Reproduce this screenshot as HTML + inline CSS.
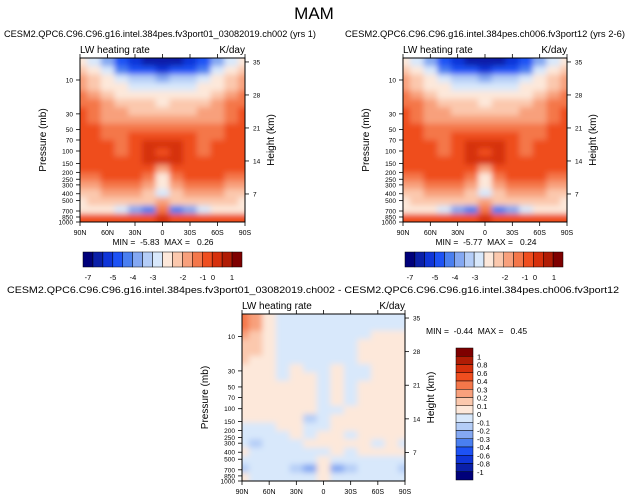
<!DOCTYPE html>
<html><head><meta charset="utf-8"><style>
html,body{margin:0;padding:0;background:#fff;}
svg{display:block;font-family:"Liberation Sans",sans-serif;}
text{white-space:pre;}
</style></head><body>
<svg id="chart" width="628" height="500" viewBox="0 0 628 500" xmlns="http://www.w3.org/2000/svg">
<defs><filter id="blur" filterUnits="userSpaceOnUse" x="0" y="0" width="628" height="500"><feGaussianBlur stdDeviation="3"/></filter></defs>
<text x="314" y="19" font-size="17" text-anchor="middle">MAM</text>
</svg>
<script>
// ---- data ----
const latitudes = [90,75,60,45,30,15,0,-15,-30,-45,-60,-75,-90];
const latLabels = ["90N","60N","30N","0","30S","60S","90S"];
const latTicks = [90,60,30,0,-30,-60,-90];
const pressureTicks = [10,30,50,70,100,150,200,250,300,400,500,700,850,1000];
const heightTicks = [35,28,21,14,7];
const topLevels = [-7,-6,-5,-4,-3.5,-3,-2.5,-2,-1.5,-1,-0.5,0,0.5,1,1.5];
const topLevelLabels = ["-7","-5","-4","-3","-2","-1","0","1"];
const diffLevels = [-1,-0.8,-0.6,-0.4,-0.3,-0.2,-0.1,0,0.1,0.2,0.3,0.4,0.6,0.8,1];
const diffLevelLabels = ["1","0.8","0.6","0.4","0.3","0.2","0.1","0","-0.1","-0.2","-0.3","-0.4","-0.6","-0.8","-1"];
const codeVals = {A:-6.5,B:-5.5,C:-4.5,D:-3.7,E:-3.2,F:-2.7,G:-2.2,H:-1.8,I:-1.3,J:-0.8,K:-0.3,L:0.2,M:0.7,
  p:-0.05,q:0.05,r:0.15,s:0.25,t:0.35,u:-0.15,v:-0.25};
const field1Rows = [
"HGECBAAABCEGH","IHGDCCBCCDGHI","JIHGFFEFFGHIJ","JIHHGGGGGHHIJ","KJIHHHHHHHIJK",
"KKJIIIHIIIJKK","LKJJIIIIIJJKL","LKJJJJJJJJJKL","LLKKKKKKKKKLL","LLKKLLLLLKKLL",
"LLLKLMMMLKLLL","LLLKLMLMLKLLL","LLLLLMMMLLLLL","LLLLLLJLLLLLL","KKLLLKHKLLLKK",
"JJKKKJHJKKKJJ","IIJJJIGIJJJII","HIIIIIJIIIIIH","HHHGEDKDEGHHH","LLLLLLMLLLLLL"];
const field2Rows = [
"HGECBAAABCEGH","IHGDCCBCCDGHI","JIHGFFEFFGHIJ","JIHHGGGGGHHIJ","KJIHHHHHHHIJK",
"KKJIIIHIIIJKK","LKJJIIIIIJJKL","LKJJJJJJJJJKL","LLKKKKKKKKKLL","LLKKLLLLLKKLL",
"LLLKLMMMLKLLL","LLLKLMLMLKLLL","LLLLLMMMLLLLL","LLLLLLJLLLLLL","KKLLLKHKLLLKK",
"JJKKKJHJKKKJJ","IIJJJIGIJJJII","HIIIIIJIIIIIH","HHHGEDKDEGHHH","LLLLLLMLLLLLL"];
const diffRows = [
"tsqpppppppppp","tsqpppppppppp","srqpppppppqqq","rrqppppppqqqq","rrqppppppqqqq",
"rqqppppppqqqq","qqqpqppqppqqq","qqqpqqpqppqqq","qqqqqqpqpqqqq","qqqqqqpqpqqqq",
"qqqqqqpqpqqqq","qqqqqqppqqqqq","qqqqqupqqqqqq","pppqqppqqqqqq","ppppqpqqpqqqq",
"pupppqqqqqpqp","qppppppqpqqqq","ppppppqpppppp","upppuvqvupppu","qpppppqpppppp"];
const palette = ["#00007a","#0a1fa8","#0f35d8","#1d52f5","#4a7ff0","#84a8f2","#b4cdf7","#d8e8fb",
  "#fde8da","#fbc8ad","#f8a07c","#f4774a","#ef4e1f","#d6300c","#b01c05","#7e0000"];

// ---- drawing ----
const svg = document.getElementById('chart');
const NS = "http://www.w3.org/2000/svg";
const P_TOP = 4.9;
function mk(tag, attrs, parent){const e=document.createElementNS(NS,tag);for(const k in attrs)e.setAttribute(k,attrs[k]);(parent||svg).appendChild(e);return e;}
function colorFor(v, levels){let i=0;while(i<levels.length&&v>=levels[i])i++;return palette[i];}

function panel(px,py,W,H,rows,levels,id,title,minmax){
  const xs = lat => px + (90-lat)/180*W;
  const ys = p => py + (Math.log10(p)-Math.log10(P_TOP))/(3-Math.log10(P_TOP))*H;
  const yz = z => ys(1175*Math.exp(-z/6.54));
  const clip = mk('clipPath',{id:'clip'+id}); mk('rect',{x:px,y:py,width:W,height:H},clip);
  const outer = mk('g',{'clip-path':'url(#clip'+id+')'});
  
  
  const g = mk('g',{filter:'url(#blur)'},outer);
  const nR = rows.length;
  rows.forEach((row,ri)=>{
    const logT=Math.log10(P_TOP), span=3-logT;
    let y0 = ys(Math.pow(10, logT+span*ri/nR)), y1 = ys(Math.pow(10, logT+span*(ri+1)/nR));
    if(ri===0) y0-=12; if(ri===nR-1) y1+=12;
    latitudes.forEach((lat,ci)=>{
      const v = codeVals[row[ci]];
      let x0 = xs(lat+7.5), x1 = xs(lat-7.5);
      if(ci===0)x0-=12; if(ci===latitudes.length-1)x1+=12;
      const r = mk('rect',{x:x0,y:y0,width:x1-x0+0.6,height:y1-y0+0.6,fill:colorFor(v,levels)},g);
      
      
    });
  });
  const frame = mk('rect',{x:px,y:py,width:W,height:H,fill:'none',stroke:'#000','stroke-width':1});
  
  
  latTicks.forEach((lat,i)=>{
    const x=xs(lat);
    mk('line',{x1:x,y1:py+H,x2:x,y2:py+H+4,stroke:'#000','stroke-width':0.8});
    mk('line',{x1:x,y1:py,x2:x,y2:py-4,stroke:'#000','stroke-width':0.8});
    const t=mk('text',{x:x,y:py+H+13,'font-size':7,'text-anchor':'middle'}); t.textContent=latLabels[i];
    
    
  });
  pressureTicks.forEach(p=>{
    const y=ys(p);
    mk('line',{x1:px,y1:y,x2:px-4,y2:y,stroke:'#000','stroke-width':0.8});
    const t=mk('text',{x:px-7,y:y+2.5,'font-size':6.5,'text-anchor':'end'}); t.textContent=p;
    
    
  });
  heightTicks.forEach(z=>{
    const y=yz(z);
    mk('line',{x1:px+W,y1:y,x2:px+W+4,y2:y,stroke:'#000','stroke-width':0.8});
    const t=mk('text',{x:px+W+8,y:y+2.5,'font-size':6.5}); t.textContent=z;
    
    
  });
  let t=mk('text',{x:px-34,y:py+H/2,'font-size':10,'text-anchor':'middle',transform:`rotate(-90 ${px-34} ${py+H/2})`}); t.textContent='Pressure (mb)';
   
  t=mk('text',{x:px+W+29,y:py+H/2,'font-size':10,'text-anchor':'middle',transform:`rotate(-90 ${px+W+29} ${py+H/2})`}); t.textContent='Height (km)';
   
  t=mk('text',{x:px,y:py-5,'font-size':10}); t.textContent='LW heating rate';
   
  t=mk('text',{x:px+W,y:py-5,'font-size':10,'text-anchor':'end'}); t.textContent='K/day';
   
  t=mk('text',{x:title[1]-title[3]/2,y:title[2],'font-size':9.6,textLength:title[3],lengthAdjust:'spacingAndGlyphs'}); t.textContent=title[0];
   
  t=mk('text',{x:minmax[1],y:minmax[2],'font-size':8.5,'text-anchor':minmax[3]}); t.textContent=minmax[0];
   
}

function hColorbar(x,y,W,H,labelXs){
  const n=palette.length, bw=W/n;
  palette.forEach((c,i)=>{
    const r=mk('rect',{x:x+i*bw,y:y,width:bw,height:H,fill:c,stroke:'#000','stroke-width':0.5});
     
  });
  topLevelLabels.forEach((l,i)=>{
    const t=mk('text',{x:x+labelXs[i],y:y+H+13,'font-size':7.5,'text-anchor':'middle'}); t.textContent=l;
     
  });
}
const cbLabelOffsets=[5,30,50,70,100,120,130,149];
panel(80,58,165,164,field1Rows,topLevels,'panel-a',['CESM2.QPC6.C96.C96.g16.intel.384pes.fv3port01_03082019.ch002 (yrs 1)',160,37,312],['MIN =  -5.83  MAX =   0.26',163,245,'middle']);
panel(403,58,164,164,field2Rows,topLevels,'panel-b',['CESM2.QPC6.C96.C96.g16.intel.384pes.ch006.fv3port12 (yrs 2-6)',485,37,280],['MIN =  -5.77  MAX =   0.24',486,245,'middle']);
panel(242,314,163,167,diffRows,diffLevels,'panel-diff',['CESM2.QPC6.C96.C96.g16.intel.384pes.fv3port01_03082019.ch002 - CESM2.QPC6.C96.C96.g16.intel.384pes.ch006.fv3port12',313,293,612],['MIN =  -0.44  MAX =   0.45',426,334,'start']);
hColorbar(83,252,159,15,cbLabelOffsets);
hColorbar(405,252,158,15,cbLabelOffsets);
(function(){
  const x=456,y=348,W=17,H=132,n=palette.length,bh=H/n;
  for(let i=0;i<n;i++){
    const r=mk('rect',{x:x,y:y+i*bh,width:W,height:bh,fill:palette[n-1-i],stroke:'#000','stroke-width':0.5});
     
  }
  diffLevelLabels.forEach((l,i)=>{
    const t=mk('text',{x:x+W+4,y:y+(i+1)*bh+3,'font-size':7.5}); t.textContent=l;
     
  });
})();
</script>
</body></html>
